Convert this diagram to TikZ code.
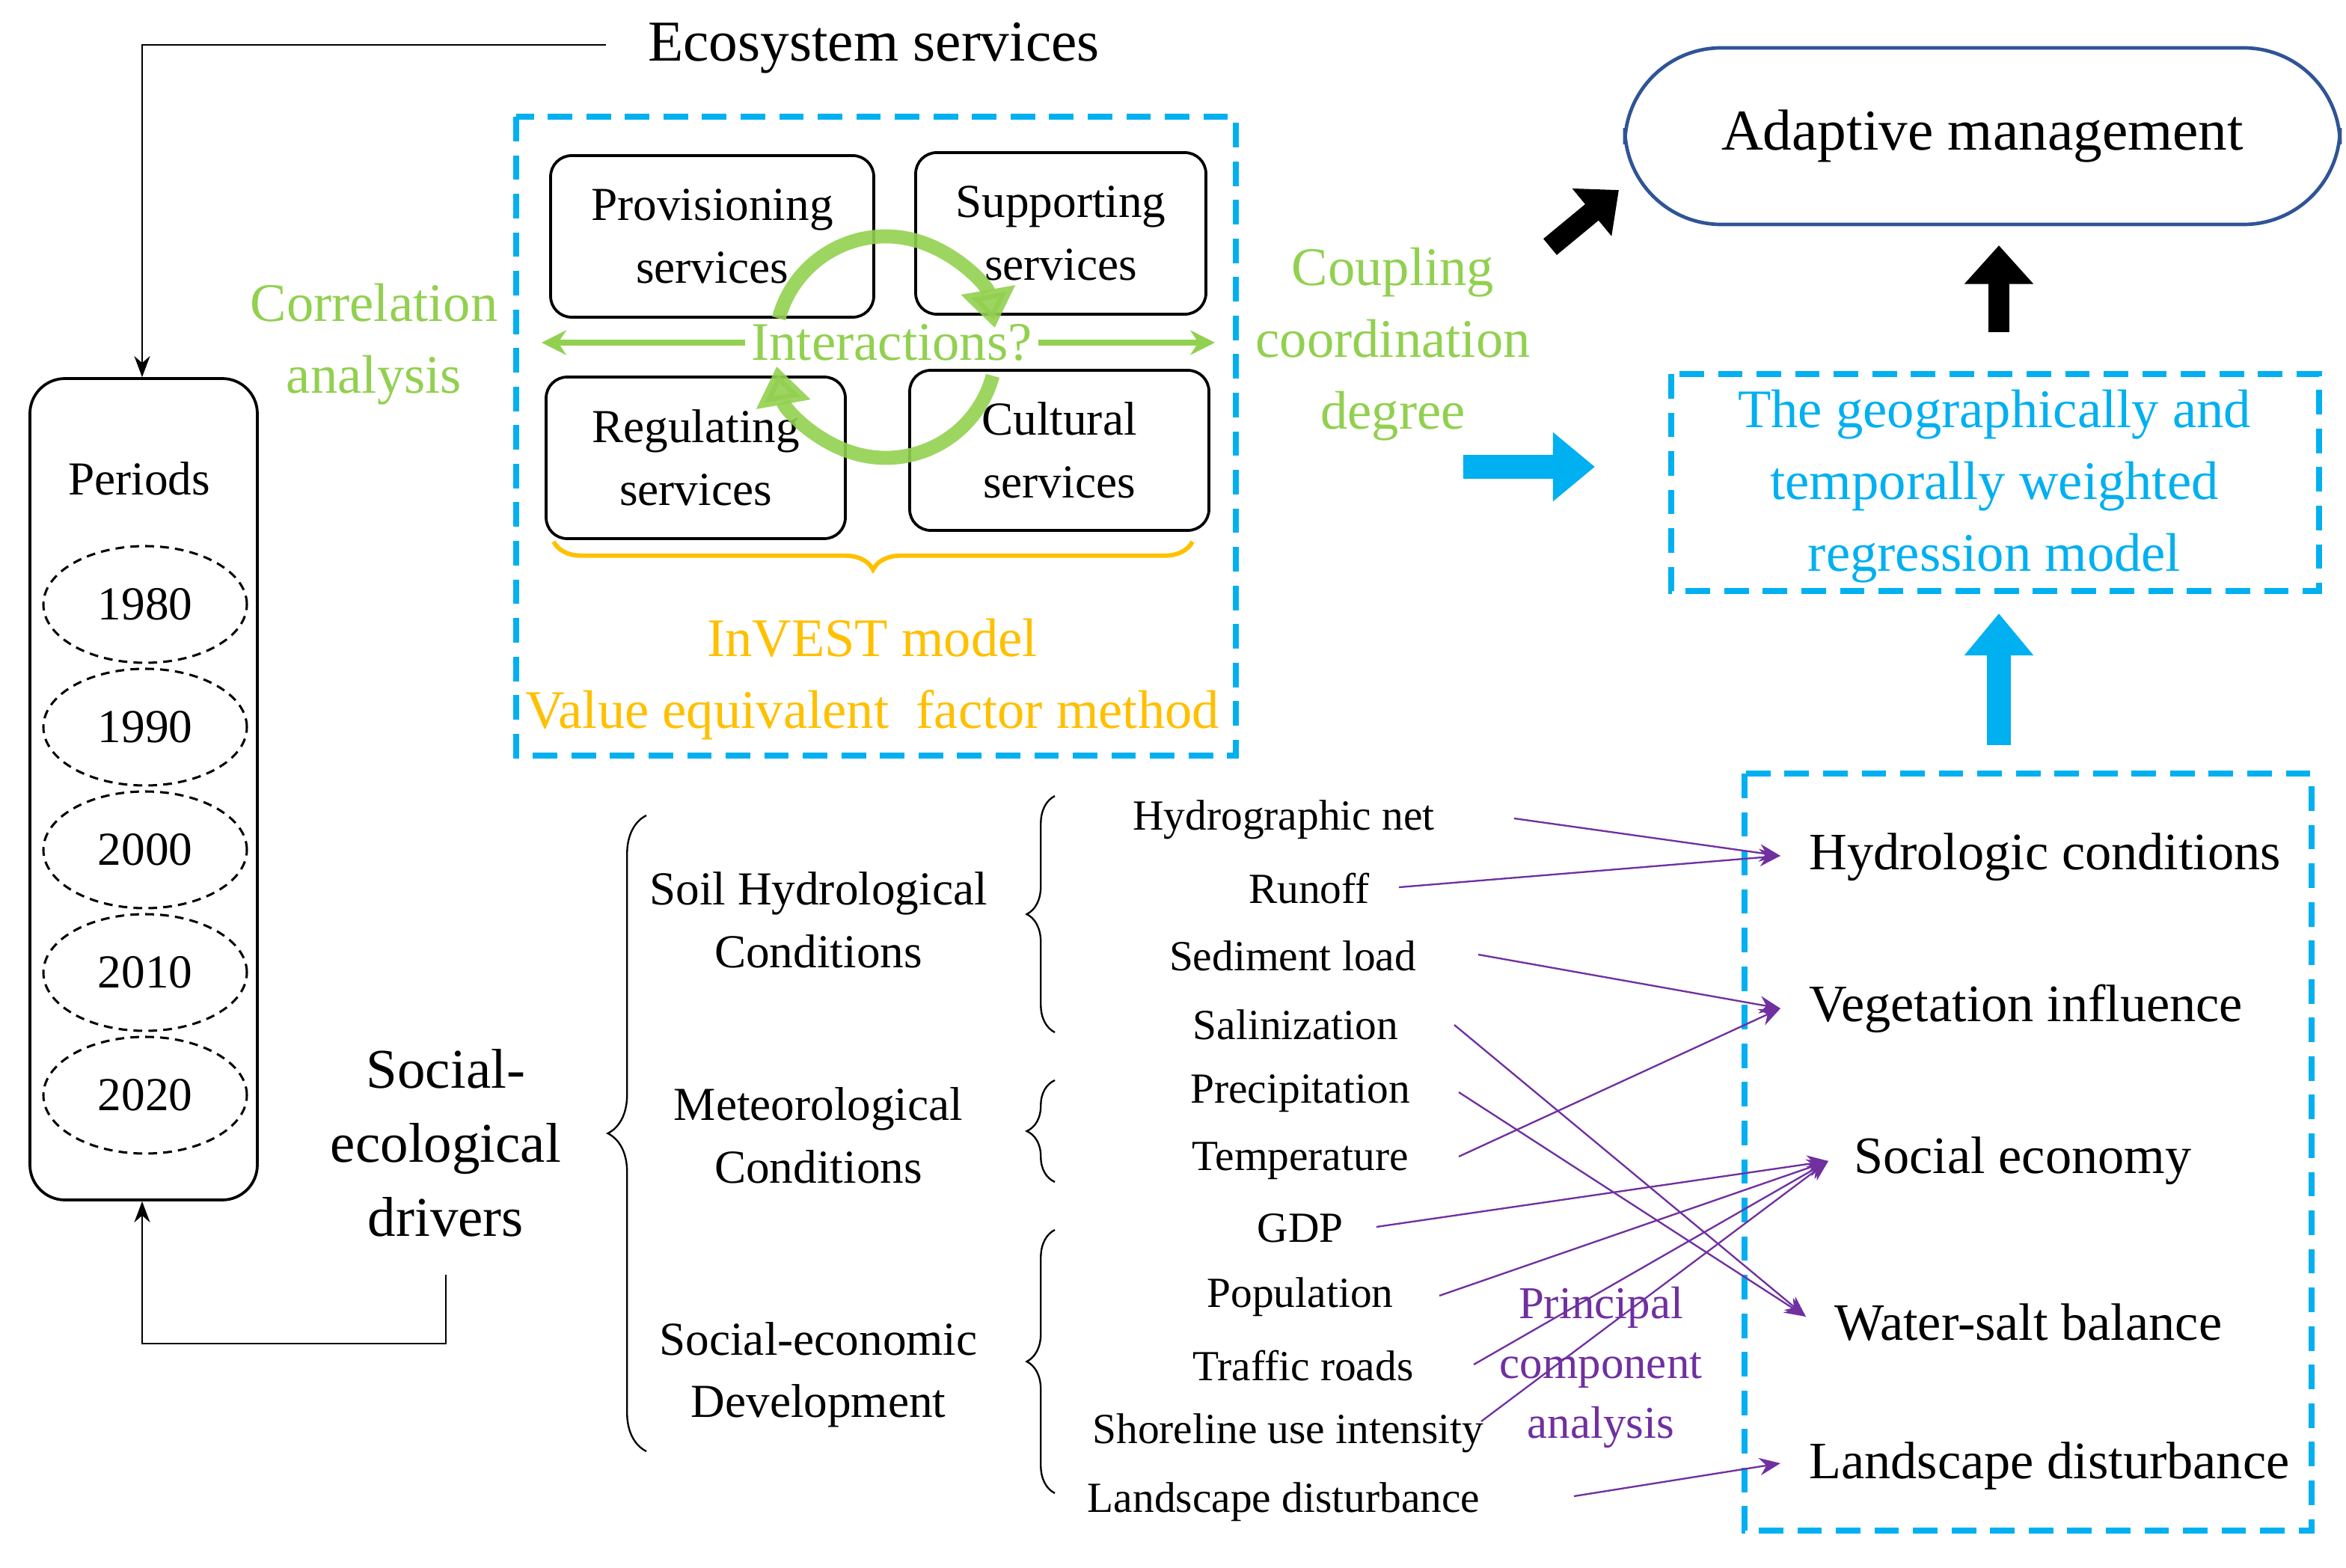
\documentclass[tikz,border=0pt]{standalone}
\usepackage{fontspec}
\setmainfont{Liberation Serif}
\usetikzlibrary{arrows.meta,decorations.pathreplacing,shapes.geometric}
\definecolor{cy}{RGB}{0,176,240}
\definecolor{gr}{RGB}{146,208,80}
\definecolor{og}{RGB}{255,192,0}
\definecolor{pu}{RGB}{112,48,160}
\definecolor{db}{RGB}{47,84,150}
\newcommand{\fs}[1]{\fontsize{#1}{1.32\dimexpr #1pt\relax}\selectfont}
\begin{document}
\begin{tikzpicture}[x=0.03cm,y=-0.03cm,
 box/.style={draw,rounded corners=12pt,line width=1.6pt,align=center,font=\fs{27}},
 ell/.style={draw,dash pattern=on 5pt off 3.5pt,ellipse,line width=1.3pt,minimum width=136*0.03cm,minimum height=78*0.03cm,font=\fs{27}},
 dbox/.style={draw=cy,dash pattern=on 14pt off 8pt,line width=3.5pt},
 lab/.style={font=\fs{24.5},inner sep=1pt},
 grp/.style={font=\fs{27},align=center},
 rl/.style={font=\fs{30},anchor=west},
 pa/.style={pu,line width=1pt,-{Stealth[length=12pt,width=10pt]}},
 fat/.style={line width=14pt,-{Triangle[length=24pt,width=38pt]}},
 gt/.style={gr,font=\fs{31},align=center}]
\useasboundingbox (0,0) rectangle (1568,1048);
% Ecosystem services
\node[font=\fs{33}] (es) at (584,32) {Ecosystem services};
\coordinate (es1) at (405,30);
\node[box,minimum width=152*0.03cm,minimum height=549*0.03cm,rounded corners=20pt] (per) at (96,527.5) {};
\draw[line width=1pt,-{Stealth[length=12pt]}] (es1) -- (95,30) -- (per.north-|95,0);
\node[font=\fs{27}] (pl) at (93,320) {Periods};
\node[ell] (y1) at (97,404) {1980};
\node[ell] (y2) at (97,486) {1990};
\node[ell] (y3) at (97,568) {2000};
\node[ell] (y4) at (97,650) {2010};
\node[ell] (y5) at (97,732) {2020};
\node[font=\fs{32},align=center] (sed) at (298,764) {Social-\\ecological\\drivers};
\coordinate (sedb) at (298,852);
\draw[line width=1pt,-{Stealth[length=12pt]}] (sedb) -- (298,898) -- (95,898) -- (per.south-|95,0);
% ES block
\draw[dbox] (345,78) rectangle (826,505);
\node[box,minimum width=216*0.03cm,minimum height=108*0.03cm] (pv) at (476,158) {Provisioning\\services};
\node[box,minimum width=194*0.03cm,minimum height=108*0.03cm] (sp) at (709,156) {Supporting\\services};
\node[box,minimum width=200*0.03cm,minimum height=108*0.03cm] (rg) at (465,306) {Regulating\\services};
\node[box,minimum width=200*0.03cm,minimum height=107*0.03cm] (cu) at (708,301) {Cultural\\services};
\draw[gr,opacity=0.9,line width=8pt,-{Triangle[length=22pt,width=30pt]}] (592,232)++(-165:74) arc[start angle=-165,end angle=-10,radius=74];
\draw[gr,opacity=0.9,line width=8pt,-{Triangle[length=22pt,width=30pt]}] (592,232)++(15:74) arc[start angle=15,end angle=170,radius=74];
\node[gt] (int) at (596,229) {Interactions?};
\coordinate (ca) at (362,229); \coordinate (cc) at (812,229);
\draw[gr,line width=3pt,-{Stealth[length=14pt,width=14pt]}] (int.west) -- (ca);
\draw[gr,line width=3pt,-{Stealth[length=14pt,width=14pt]}] (int.east) -- (cc);
\node[gt] (cor) at (250,230) {Correlation\\analysis};
\node[gt] (cou) at (931,230) {Coupling\\coordination\\degree};
\draw[og,line width=2.5pt,decorate,decoration={brace,mirror,amplitude=16pt}] (370,362) -- (797,362);
\node[og,font=\fs{31},align=center] (inv) at (583,454) {InVEST model\\Value equivalent\ \ factor method};
% Right side
\node[draw=db,line width=2pt,rounded corners=55pt,minimum width=478*0.03cm,minimum height=118*0.03cm,font=\fs{33}] (am) at (1325,91) {Adaptive management};
\draw[dbox] (1117,250) rectangle (1550,395);
\node[cy,font=\fs{31},align=center] (gt) at (1333,325) {The geographically and\\temporally weighted\\regression model};
\draw[dbox] (1166,517) rectangle (1545,1023);
\coordinate (b1) at (978,312); \coordinate (b2) at (1066,312);
\draw[cy,fat] (b1) -- (b2);
\coordinate (k1) at (1036,165); \coordinate (k2) at (1082,127);
\draw[black,fat,line width=12pt,-{Triangle[length=20pt,width=34pt]}] (k1) -- (k2);
\coordinate (u1) at (1336,222); \coordinate (u2) at (1336,164);
\draw[black,fat,line width=12pt,-{Triangle[length=22pt,width=38pt]}] (u1) -- (u2);
\coordinate (v1) at (1336,498); \coordinate (v2) at (1336,410);
\draw[cy,fat] (v1) -- (v2);
\node[rl] (r1) at (1205,573) {Hydrologic conditions};
\node[rl] (r2) at (1205,674) {Vegetation influence};
\node[rl] (r3) at (1235,776) {Social economy};
\node[rl] (r4) at (1222,884) {Water-salt balance};
\node[rl] (r5) at (1205,980) {Landscape disturbance};
% Drivers
\draw[line width=1pt,decorate,decoration={brace,amplitude=22pt}] (432,970) -- (432,545);
\node[grp] (g1) at (547,615) {Soil Hydrological\\Conditions};
\node[grp] (g2) at (547,759) {Meteorological\\Conditions};
\node[grp] (g3) at (547,919) {Social-economic\\Development};
\draw[line width=1pt,decorate,decoration={brace,amplitude=16pt}] (705,690) -- (705,532);
\draw[line width=1pt,decorate,decoration={brace,amplitude=16pt}] (705,790) -- (705,722);
\draw[line width=1pt,decorate,decoration={brace,amplitude=16pt}] (705,998) -- (705,822);
\node[lab] (f1) at (858,548) {Hydrographic net};
\node[lab] (f2) at (875,594) {Runoff};
\node[lab] (f3) at (864,639) {Sediment load};
\node[lab] (f4) at (866,685) {Salinization};
\node[lab] (f5) at (869,731) {Precipitation};
\node[lab] (f6) at (869,776) {Temperature};
\node[lab] (f7) at (869,821) {GDP};
\node[lab] (f8) at (869,867) {Population};
\node[lab] (f9) at (871,913) {Traffic roads};
\node[lab] (f10) at (861,958) {Shoreline use intensity};
\node[lab] (f11) at (858,1004) {Landscape disturbance};
\node[pu,font=\fs{26},align=center,fill=white,fill opacity=0.5,text opacity=1,inner sep=1pt] (pca) at (1070,914) {Principal\\component\\analysis};
\coordinate (t1) at (1190,572); \coordinate (t2) at (1190,674);
\coordinate (t3) at (1222,776); \coordinate (t4) at (1207,880); \coordinate (t5) at (1190,978);
\coordinate (s1) at (1012,547); \coordinate (s2) at (935,593); \coordinate (s3) at (988,638);
\coordinate (s4) at (972,685); \coordinate (s5) at (975,730); \coordinate (s6) at (975,773);
\coordinate (s7) at (920,820); \coordinate (s8) at (962,866); \coordinate (s9) at (985,912);
\coordinate (s10) at (990,950); \coordinate (s11) at (1052,1000);
\draw[pa] (s1) -- (t1); \draw[pa] (s2) -- (t1); \draw[pa] (s3) -- (t2);
\draw[pa] (s4) -- (t4); \draw[pa] (s5) -- (t4); \draw[pa] (s6) -- (t2);
\draw[pa] (s7) -- (t3); \draw[pa] (s8) -- (t3); \draw[pa] (s9) -- (t3);
\draw[pa] (s10) -- (t3); \draw[pa] (s11) -- (t5);
\end{tikzpicture}
\end{document}
